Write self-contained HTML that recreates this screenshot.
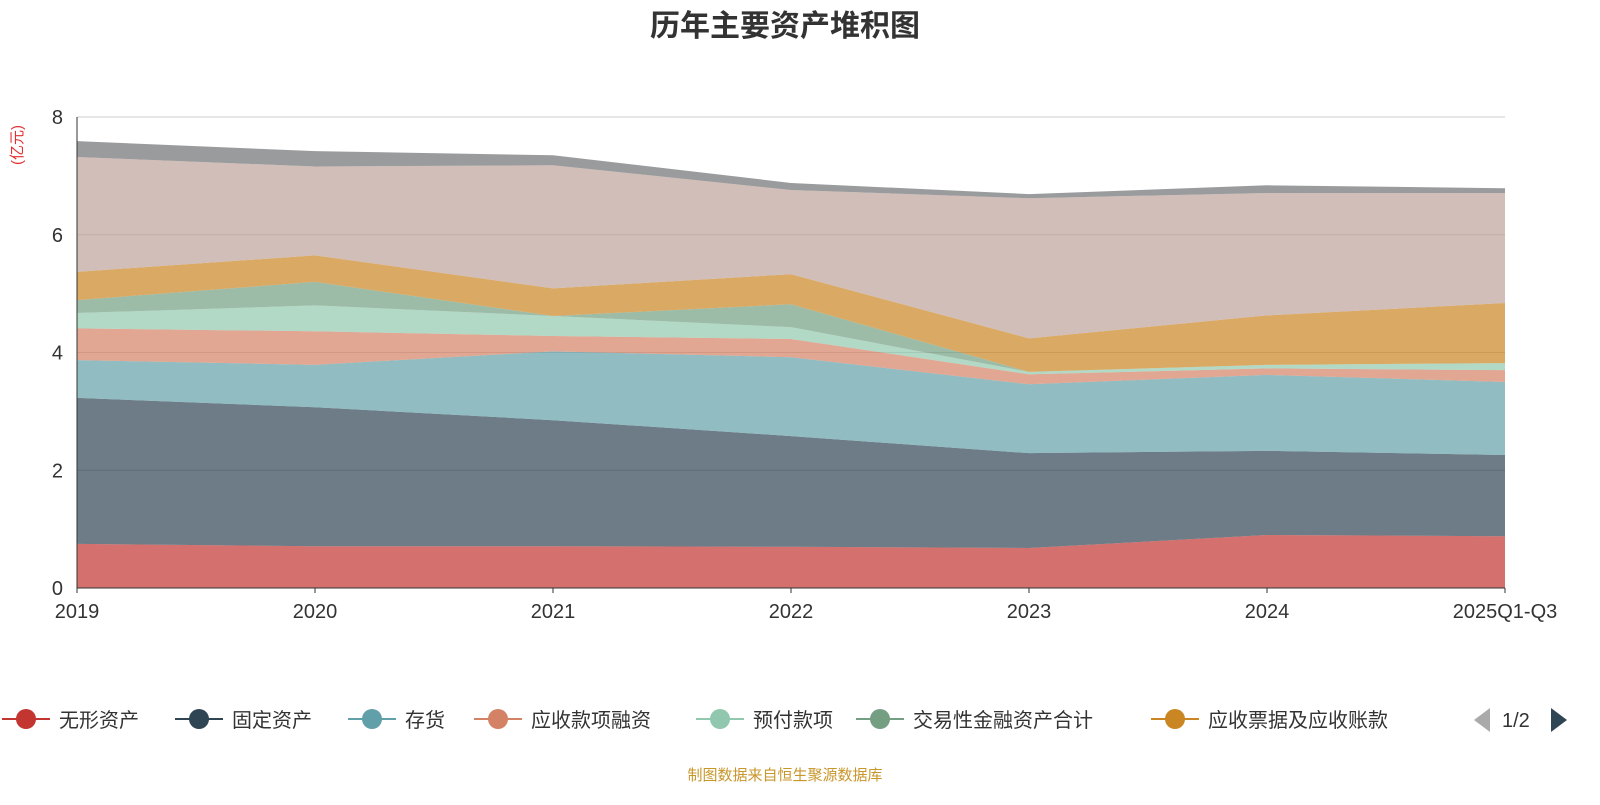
<!DOCTYPE html>
<html><head><meta charset="utf-8"><style>
body{margin:0;background:#fff;font-family:"Liberation Sans","Noto Sans CJK SC",sans-serif;}
svg text{font-family:"Liberation Sans","Noto Sans CJK SC",sans-serif;}
</style></head><body>
<svg id="c" width="1600" height="800">
<text x="785" y="36" text-anchor="middle" font-size="30" font-weight="bold" fill="#333">历年主要资产堆积图</text>
<text x="22" y="145" font-size="15" fill="#e03030" transform="rotate(-90 22 145)" text-anchor="middle">(亿元)</text>
<g id="grid"></g><g id="areas"></g><g id="axes"></g><g id="legend"></g>
<text x="785" y="780" text-anchor="middle" font-size="15" fill="#c8962a">制图数据来自恒生聚源数据库</text>
</svg>
<script>
const categories=["2019","2020","2021","2022","2023","2024","2025Q1-Q3"];
const seriesNames=["无形资产","固定资产","存货","应收款项融资","预付款项","交易性金融资产合计","应收票据及应收账款","货币资金","其他"];
const s0=[0.75,0.71,0.71,0.70,0.68,0.90,0.88];
const s1=[2.48,2.36,2.14,1.88,1.61,1.43,1.38];
const s2=[0.64,0.72,1.17,1.34,1.17,1.29,1.24];
const s3=[0.54,0.57,0.26,0.31,0.17,0.11,0.20];
const s4=[0.26,0.44,0.34,0.20,0.04,0.06,0.12];
const s5=[0.22,0.40,0.00,0.39,0.00,0.00,0.00];
const s6=[0.48,0.45,0.47,0.51,0.57,0.84,1.02];
const s7=[1.95,1.51,2.09,1.43,2.38,2.08,1.87];
const s8=[0.27,0.26,0.17,0.12,0.07,0.13,0.08];
const yTicks=[0,2,4,6,8];
const series=[s0,s1,s2,s3,s4,s5,s6,s7,s8];
const colors=["#c23531","#2f4554","#61a0a8","#d48265","#91c7ae","#749f83","#ca8622","#bda29a","#6e7074"];
const NS="http://www.w3.org/2000/svg";
const X0=77,X1=1505,Y0=588,Y1=117;
const xs=i=>X0+(X1-X0)*i/(categories.length-1);
const ys=v=>Y0-(Y0-Y1)*v/8;
function mk(t,a,p){const e=document.createElementNS(NS,t);for(const k in a)e.setAttribute(k,a[k]);p.appendChild(e);return e;}
const grid=document.getElementById('grid'),axes=document.getElementById('axes'),areas=document.getElementById('areas'),leg=document.getElementById('legend');
yTicks.forEach(t=>{
 if(t>0){const l=mk('line',{x1:X0,x2:X1,y1:ys(t),y2:ys(t),stroke:'#ccc'},grid);
 
 }
 const tx=mk('text',{x:X0-14,y:ys(t)+7,'text-anchor':'end','font-size':20,fill:'#333'},axes);tx.textContent=t;
 
 
});
let base=categories.map(()=>0);
series.forEach((s,k)=>{
 const top=base.map((b,i)=>b+s[i]);
 let d='M'+top.map((v,i)=>xs(i)+','+ys(v)).join('L');
 for(let i=categories.length-1;i>=0;i--)d+='L'+xs(i)+','+ys(base[i]);
 const p=mk('path',{d:d+'Z',fill:colors[k],'fill-opacity':0.7},areas);
 
 
 base=top;
});
mk('line',{x1:X0,x2:X0,y1:Y1,y2:Y0,stroke:'#333'},axes);
mk('line',{x1:X0,x2:X1,y1:Y0,y2:Y0,stroke:'#333'},axes);
categories.forEach((c,i)=>{
 mk('line',{x1:xs(i),x2:xs(i),y1:Y0,y2:Y0+5,stroke:'#333'},axes);
 const tx=mk('text',{x:xs(i),y:Y0+30,'text-anchor':'middle','font-size':20,fill:'#333'},axes);tx.textContent=c;
 
 
});
const lx=[2,175,348,474,696,856,1151];
for(let k=0;k<7;k++){
 const g=mk('g',{},leg);
 
 
 mk('line',{x1:lx[k],x2:lx[k]+48,y1:719,y2:719,stroke:colors[k],'stroke-width':2},g);
 mk('circle',{cx:lx[k]+24,cy:719,r:10,fill:colors[k]},g);
 const t=mk('text',{x:lx[k]+57,y:727,'font-size':20,fill:'#333'},g);t.textContent=seriesNames[k];
}
const pl=mk('path',{d:'M1490,708L1490,732L1474,720Z',fill:'#aaa'},leg);


const pt=mk('text',{x:1502,y:727,'font-size':20,fill:'#333'},leg);pt.textContent='1/2';


const pn=mk('path',{d:'M1551,708L1551,732L1567,720Z',fill:'#2f4554'},leg);


</script>
</body></html>
